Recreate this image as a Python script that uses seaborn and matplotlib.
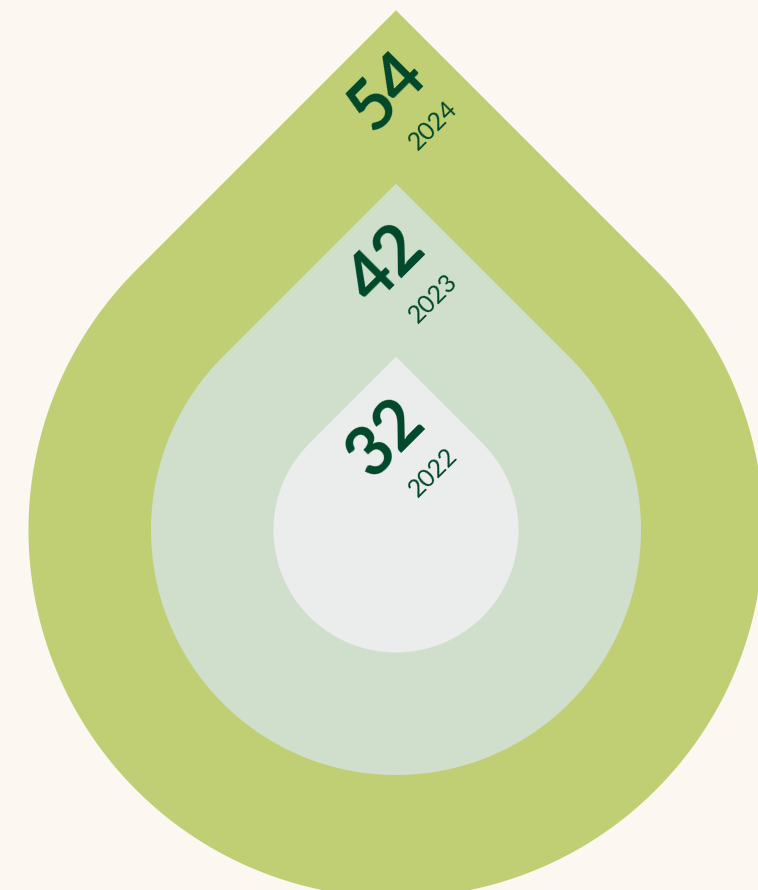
import numpy as np
import matplotlib
matplotlib.use("Agg")
import matplotlib.pyplot as plt
import seaborn as sns

# ---- data ----
years = ["2022", "2023", "2024"]
values = [32, 42, 54]
levels = [1, 2, 3]            # nesting level (drop size rank)
fill_colors = ["#EBECEC", "#D0DFCB", "#C0CF74"]

BG = "#FDF7F1"
TEXT = "#00482A"

sns.set_theme(style="white")
plt.rcParams["font.family"] = ["Lato", "DejaVu Sans"]

W, H, DPI = 758, 890, 100
fig = plt.figure(figsize=(W / DPI, H / DPI), dpi=DPI, facecolor=BG)
ax = fig.add_axes([0, 0, 1, 1])
ax.set_facecolor(BG)

unit = 122.5                     # pixels per level unit
cx_px, cy_px = 396, 530
ax.set_xlim(-cx_px / unit, (W - cx_px) / unit)
ax.set_ylim(-(H - cy_px) / unit, cy_px / unit)
ax.set_aspect("equal", adjustable="box")
ax.axis("off")


def drop(r):
    t = np.linspace(np.deg2rad(135), np.deg2rad(405), 400)
    x = r * np.cos(t)
    y = r * np.sin(t)
    x = np.append(x, 0)
    y = np.append(y, r * np.sqrt(2))
    return x, y


order = sorted(range(len(levels)), key=lambda i: -levels[i])
for i in order:
    x, y = drop(levels[i])
    ax.fill(x, y, color=fill_colors[i], lw=0, zorder=1 + (3 - levels[i]))

for i in range(len(levels)):
    apex = (0, levels[i] * np.sqrt(2))
    ax.annotate(str(values[i]), xy=apex, xytext=(-9, -82),
                textcoords="offset pixels", ha="center", va="center",
                rotation=45, fontsize=49, fontweight="bold", color=TEXT,
                zorder=10)
    ax.annotate(years[i], xy=apex, xytext=(37, -115),
                textcoords="offset pixels", ha="center", va="center",
                rotation=45, fontsize=18, fontweight="normal", color=TEXT,
                zorder=10)

fig.savefig("out.png", dpi=DPI, facecolor=BG)
